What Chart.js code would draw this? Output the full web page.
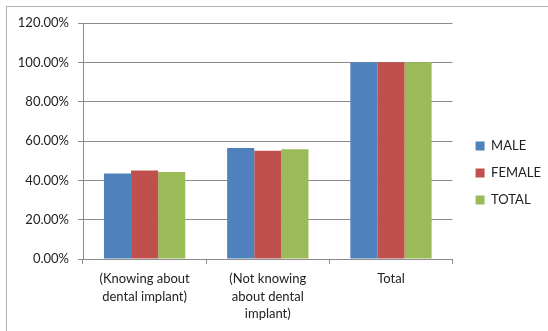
<!DOCTYPE html>
<html>
<head>
<meta charset="utf-8">
<script src="https://cdn.jsdelivr.net/npm/chart.js@4"></script>
<style>
  html, body { margin: 0; padding: 0; background: #fff; }
  #wrap { position: relative; width: 548px; height: 331px; }
  #frame { position: absolute; left: 6px; top: 6px; right: 0; bottom: 0;
           border-left: 1px solid #b0b0b0; border-top: 1px solid #b0b0b0; }
  canvas { position: absolute; left: 0; top: 0; }
</style>
</head>
<body>
<div id="wrap">
  <div id="frame"></div>
  <canvas id="chart" width="548" height="331"></canvas>
</div>
<script>
// ---------- data ----------
const categories = [
  ['(Knowing about', 'dental implant)'],
  ['(Not knowing', 'about dental', 'implant)'],
  'Total'
];
const male = [43.5, 56.5, 100];
const female = [45.0, 55.0, 100];
const total = [44.2, 55.8, 100];
const yTicks = { min: 0, max: 120, step: 20 };

const FONT = "Lato, 'Open Sans', sans-serif";
const TEXT = '#222';
const GRID = '#8c8c8c';

Chart.defaults.font.family = FONT;
Chart.defaults.font.size = 13;
Chart.defaults.color = TEXT;

// nudge the legend a bit right and up, like the original
const legendNudge = {
  id: 'legendNudge',
  afterLayout(chart) {
    if (!chart.legend) return;
    chart.legend.left += 9;
    chart.legend.top -= 8;
  }
};

new Chart(document.getElementById('chart'), {
  type: 'bar',
  data: {
    labels: categories,
    datasets: [
      { label: 'MALE', data: male, backgroundColor: '#4f81bd' },
      { label: 'FEMALE', data: female, backgroundColor: '#c0504d' },
      { label: 'TOTAL', data: total, backgroundColor: '#9bbb59' },
    ]
  },
  plugins: [legendNudge],
  options: {
    responsive: false,
    animation: false,
    devicePixelRatio: 1,
    layout: { padding: { left: 0, top: 23, right: 6, bottom: 0 } },
    datasets: { bar: { categoryPercentage: 0.66, barPercentage: 1, borderWidth: 0 } },
    plugins: {
      tooltip: { enabled: false },
      legend: {
        position: 'right',
        labels: { boxWidth: 9, boxHeight: 9, padding: 14, font: { size: 13 }, color: TEXT }
      }
    },
    scales: {
      x: {
        grid: { offset: true, drawOnChartArea: false, drawTicks: true, tickLength: 5, color: GRID },
        border: { color: GRID },
        ticks: { padding: 6, maxRotation: 0, autoSkip: false, font: { size: 13, lineHeight: 1.35 } },
        afterFit: s => { s.height = 72; }
      },
      y: {
        min: yTicks.min, max: yTicks.max,
        grid: { color: GRID, tickLength: 5 },
        border: { color: GRID },
        ticks: { stepSize: yTicks.step, padding: 9, callback: v => v.toFixed(2) + '%' },
        afterFit: s => { s.width = 83; }
      }
    }
  }
});
</script>
</body>
</html>
